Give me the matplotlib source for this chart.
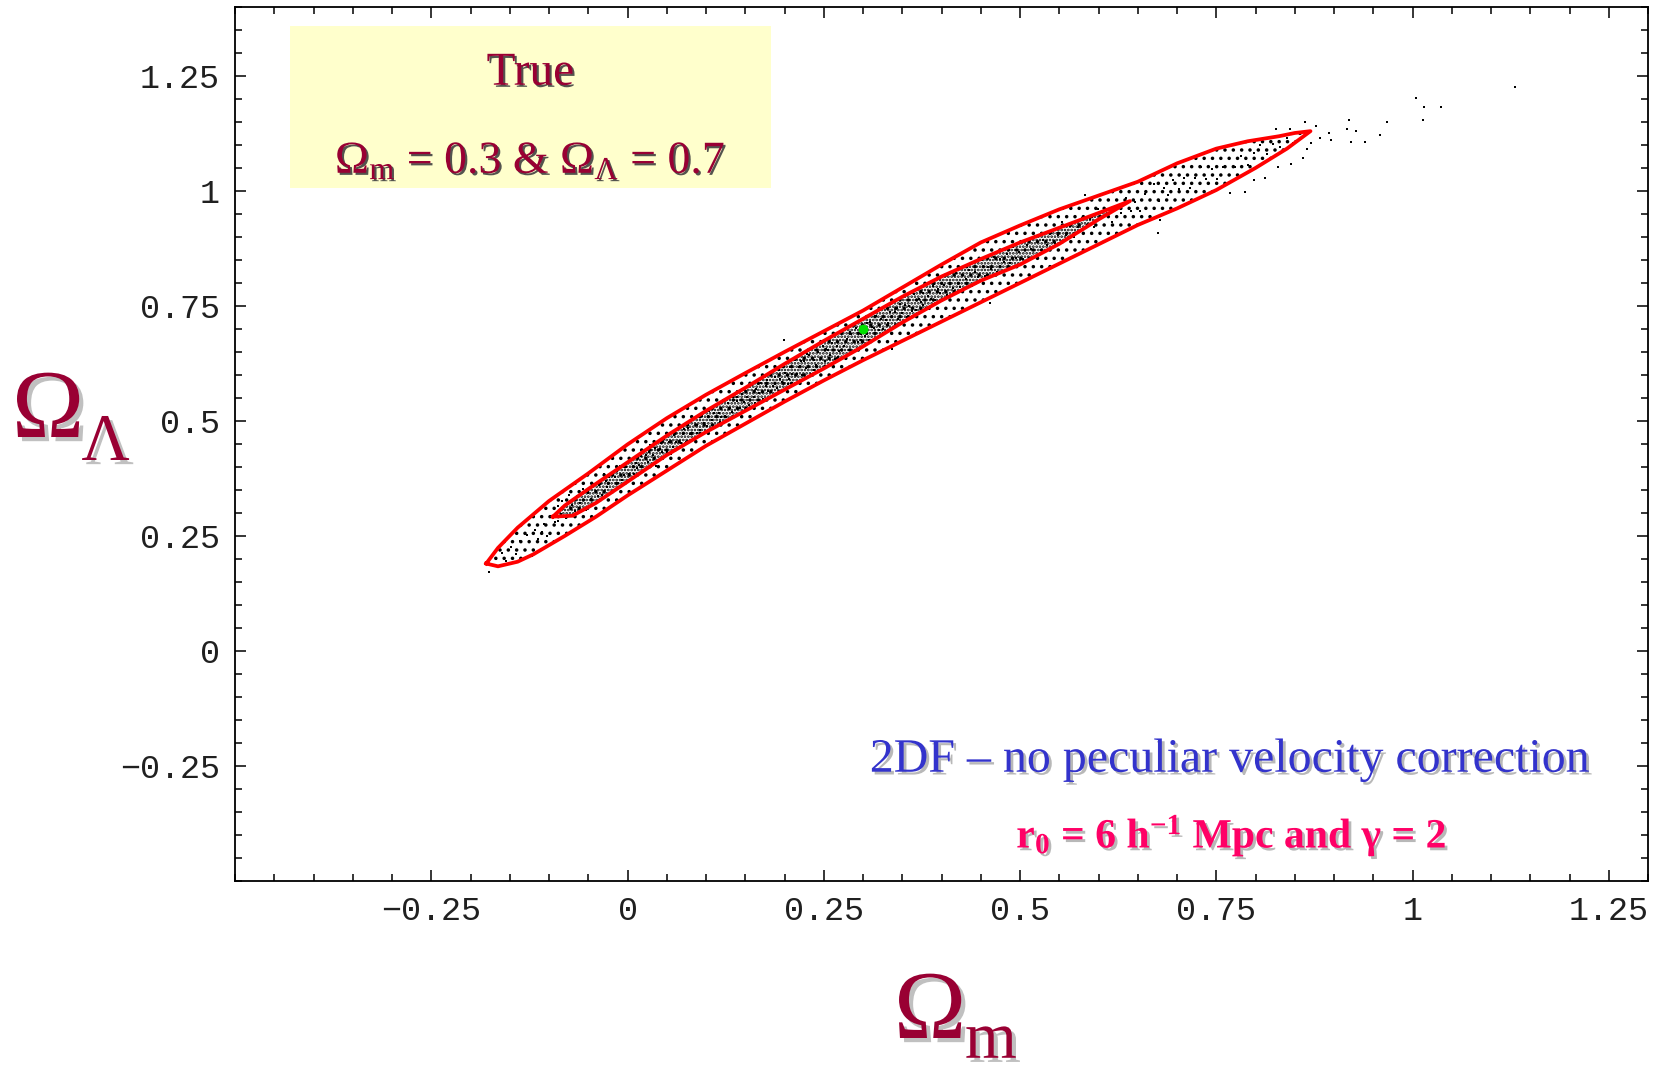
import matplotlib
matplotlib.use("Agg")
import matplotlib.pyplot as plt
import matplotlib.patheffects as pe
from matplotlib.patches import Rectangle
from matplotlib.ticker import FixedLocator, FixedFormatter, MultipleLocator

plt.rcParams['mathtext.fontset'] = 'custom'
plt.rcParams['mathtext.rm'] = 'Liberation Serif'
plt.rcParams['mathtext.it'] = 'Liberation Serif:italic'
plt.rcParams['mathtext.bf'] = 'Liberation Serif:bold'
plt.rcParams['hatch.linewidth'] = 1.3

# confidence contours in the (Omega_m, Omega_Lambda) plane
outer_x = [-0.180, -0.165, -0.140, -0.120, -0.080, -0.040, 0.000, 0.050, 0.100, 0.150,
           0.200, 0.250, 0.300, 0.350, 0.400, 0.450, 0.500, 0.550, 0.600, 0.650,
           0.700, 0.750, 0.800, 0.840, 0.870, 0.850, 0.830, 0.790, 0.750, 0.700,
           0.650, 0.600, 0.550, 0.500, 0.450, 0.400, 0.350, 0.300, 0.250, 0.200,
           0.150, 0.100, 0.050, 0.000, -0.050, -0.100, -0.140, -0.165, -0.180]
outer_y = [0.190, 0.184, 0.194, 0.210, 0.250, 0.292, 0.338, 0.392, 0.446, 0.494,
           0.542, 0.588, 0.632, 0.674, 0.716, 0.758, 0.800, 0.842, 0.884, 0.926,
           0.962, 1.002, 1.050, 1.092, 1.130, 1.126, 1.119, 1.108, 1.092, 1.060,
           1.020, 0.990, 0.960, 0.925, 0.888, 0.840, 0.790, 0.740, 0.695, 0.650,
           0.604, 0.557, 0.506, 0.449, 0.386, 0.326, 0.268, 0.224, 0.190]

inner_x = [-0.095, -0.080, -0.050, 0.000, 0.050, 0.100, 0.150, 0.200, 0.250, 0.300,
           0.350, 0.400, 0.450, 0.500, 0.550, 0.600, 0.640, 0.600, 0.550, 0.500,
           0.450, 0.400, 0.350, 0.300, 0.250, 0.200, 0.150, 0.100, 0.050, 0.000,
           -0.040, -0.070, -0.095]
inner_y = [0.292, 0.316, 0.352, 0.410, 0.468, 0.522, 0.572, 0.624, 0.674, 0.722,
           0.770, 0.814, 0.852, 0.888, 0.920, 0.952, 0.978, 0.938, 0.885, 0.840,
           0.805, 0.762, 0.714, 0.662, 0.614, 0.568, 0.522, 0.476, 0.426, 0.368,
           0.322, 0.294, 0.292]

# sampled models (Omega_m, Omega_Lambda)
samples = [
    (-0.176, 0.171), (-0.168, 0.200), (-0.160, 0.213), (-0.155, 0.196), (-0.149, 0.226),
    (-0.142, 0.211), (-0.137, 0.238), (-0.131, 0.220), (-0.128, 0.251), (-0.122, 0.206),
    (-0.118, 0.262), (-0.114, 0.244), (-0.109, 0.258), (-0.106, 0.276), (-0.102, 0.249),
    (-0.097, 0.294), (-0.093, 0.280), (-0.089, 0.315), (-0.085, 0.297), (-0.081, 0.314),
    (-0.078, 0.288), (-0.074, 0.340), (-0.071, 0.317), (-0.067, 0.305), (-0.064, 0.337),
    (-0.060, 0.322), (-0.057, 0.353), (-0.053, 0.307), (-0.050, 0.343), (-0.047, 0.331),
    (-0.043, 0.362), (-0.040, 0.347), (-0.036, 0.361), (-0.033, 0.338), (-0.030, 0.385),
    (-0.026, 0.357), (-0.023, 0.379), (-0.019, 0.348), (-0.016, 0.378), (-0.012, 0.366),
    (-0.009, 0.401), (-0.005, 0.383), (-0.002, 0.400), (-0.088, 0.283), (-0.076, 0.322),
    (-0.062, 0.310), (-0.045, 0.356), (-0.038, 0.336), (-0.028, 0.369), (-0.014, 0.391),
    (-0.007, 0.372), (-0.083, 0.327),
    (0.002, 0.385), (0.005, 0.418), (0.008, 0.384), (0.011, 0.409), (0.014, 0.404),
    (0.017, 0.424), (0.020, 0.388), (0.023, 0.425), (0.026, 0.410), (0.029, 0.447),
    (0.032, 0.426), (0.035, 0.441), (0.038, 0.413), (0.041, 0.439), (0.044, 0.432),
    (0.047, 0.460), (0.050, 0.432), (0.053, 0.455), (0.056, 0.429), (0.059, 0.469),
    (0.062, 0.454), (0.065, 0.490), (0.068, 0.453), (0.071, 0.471), (0.074, 0.454),
    (0.077, 0.485), (0.080, 0.472), (0.083, 0.502), (0.086, 0.458), (0.089, 0.492),
    (0.092, 0.481), (0.095, 0.510), (0.098, 0.496), (0.012, 0.397), (0.027, 0.432),
    (0.043, 0.451), (0.058, 0.444), (0.072, 0.482), (0.088, 0.474), (0.097, 0.520),
    (0.036, 0.402),
    (0.101, 0.490), (0.104, 0.521), (0.107, 0.503), (0.110, 0.518), (0.113, 0.490),
    (0.116, 0.518), (0.119, 0.509), (0.122, 0.546), (0.125, 0.509), (0.128, 0.538),
    (0.131, 0.529), (0.134, 0.552), (0.137, 0.510), (0.140, 0.544), (0.143, 0.529),
    (0.146, 0.558), (0.149, 0.541), (0.152, 0.551), (0.155, 0.534), (0.158, 0.578),
    (0.161, 0.551), (0.164, 0.570), (0.167, 0.561), (0.170, 0.583), (0.173, 0.547),
    (0.176, 0.577), (0.179, 0.565), (0.182, 0.606), (0.185, 0.577), (0.188, 0.596),
    (0.191, 0.571), (0.194, 0.592), (0.197, 0.584), (0.108, 0.527), (0.118, 0.497),
    (0.133, 0.520), (0.148, 0.567), (0.163, 0.540), (0.178, 0.590), (0.193, 0.610),
    (0.139, 0.553),
    (0.201, 0.604), (0.204, 0.580), (0.207, 0.618), (0.210, 0.603), (0.213, 0.632),
    (0.216, 0.601), (0.219, 0.618), (0.222, 0.600), (0.225, 0.631), (0.228, 0.616),
    (0.231, 0.643), (0.234, 0.603), (0.237, 0.632), (0.240, 0.622), (0.243, 0.649),
    (0.246, 0.636), (0.249, 0.663), (0.252, 0.630), (0.255, 0.654), (0.258, 0.643),
    (0.261, 0.669), (0.264, 0.635), (0.267, 0.662), (0.270, 0.651), (0.273, 0.691),
    (0.276, 0.663), (0.279, 0.679), (0.282, 0.655), (0.285, 0.688), (0.288, 0.672),
    (0.291, 0.701), (0.294, 0.671), (0.297, 0.689), (0.206, 0.592), (0.221, 0.630),
    (0.238, 0.611), (0.253, 0.657), (0.268, 0.640), (0.283, 0.694), (0.298, 0.676),
    (0.229, 0.646),
    (0.302, 0.684), (0.305, 0.712), (0.308, 0.677), (0.311, 0.705), (0.314, 0.701),
    (0.317, 0.729), (0.320, 0.697), (0.323, 0.722), (0.326, 0.699), (0.329, 0.719),
    (0.332, 0.714), (0.335, 0.737), (0.338, 0.702), (0.341, 0.736), (0.344, 0.722),
    (0.347, 0.755), (0.350, 0.735), (0.353, 0.751), (0.356, 0.726), (0.359, 0.750),
    (0.362, 0.740), (0.365, 0.777), (0.368, 0.742), (0.371, 0.765), (0.374, 0.759),
    (0.377, 0.778), (0.380, 0.746), (0.383, 0.772), (0.386, 0.765), (0.389, 0.793),
    (0.392, 0.763), (0.395, 0.786), (0.398, 0.779), (0.309, 0.715), (0.343, 0.745),
    (0.361, 0.723), (0.376, 0.751), (0.391, 0.797),
    (0.403, 0.796), (0.407, 0.773), (0.411, 0.797), (0.415, 0.790), (0.419, 0.821),
    (0.423, 0.791), (0.427, 0.818), (0.431, 0.809), (0.435, 0.829), (0.439, 0.794),
    (0.443, 0.824), (0.447, 0.814), (0.451, 0.850), (0.455, 0.815), (0.459, 0.834),
    (0.463, 0.830), (0.467, 0.856), (0.471, 0.823), (0.475, 0.853), (0.479, 0.845),
    (0.483, 0.864), (0.487, 0.844), (0.491, 0.878), (0.495, 0.855), (0.499, 0.868),
    (0.504, 0.853), (0.509, 0.882), (0.514, 0.874), (0.519, 0.901), (0.524, 0.863),
    (0.529, 0.893), (0.534, 0.883), (0.539, 0.909), (0.544, 0.886), (0.549, 0.905),
    (0.554, 0.932), (0.559, 0.905), (0.564, 0.924), (0.569, 0.900), (0.574, 0.922),
    (0.579, 0.942), (0.584, 0.919), (0.589, 0.939), (0.594, 0.922), (0.599, 0.961),
    (0.605, 0.941), (0.611, 0.961), (0.617, 0.933), (0.623, 0.961), (0.629, 0.952),
    (0.635, 0.985), (0.641, 0.956), (0.647, 0.977), (0.653, 0.956), (0.659, 0.993),
    (0.665, 0.981), (0.671, 1.016), (0.677, 0.978), (0.683, 1.006), (0.689, 0.992),
    (0.695, 1.024), (0.702, 1.004), (0.709, 1.028), (0.716, 1.006), (0.723, 1.029),
    (0.730, 1.051), (0.737, 1.025), (0.744, 1.048), (0.751, 1.026), (0.758, 1.051),
    (0.766, 1.071), (0.774, 1.052), (0.782, 1.075), (0.790, 1.056), (0.798, 1.082),
    (0.806, 1.100), (0.814, 1.080), (0.822, 1.101), (0.831, 1.095), (0.840, 1.115),
    (0.848, 1.105),
    # scatter outside the outer contour and the high-Omega tail
    (0.199, 0.675), (0.337, 0.656), (0.462, 0.756), (0.583, 0.991), (0.676, 0.909),
    (0.678, 0.937), (0.786, 0.998), (0.767, 0.995), (0.798, 1.024), (0.812, 1.028),
    (0.828, 1.052), (0.845, 1.058), (0.860, 1.071), (0.866, 1.091), (0.871, 1.104),
    (0.826, 1.134), (0.844, 1.134), (0.863, 1.149), (0.877, 1.141), (0.882, 1.115),
    (0.894, 1.125), (0.896, 1.110), (0.917, 1.134), (0.919, 1.154), (0.922, 1.106),
    (0.928, 1.130), (0.939, 1.106), (0.959, 1.121), (0.967, 1.149), (1.004, 1.201),
    (1.015, 1.182), (1.036, 1.182), (1.013, 1.154), (1.131, 1.227),
]

true_om = 0.3
true_ol = 0.7

x_ticks = [-0.25, 0, 0.25, 0.5, 0.75, 1, 1.25]
x_labels = ["\u22120.25", "0", "0.25", "0.5", "0.75", "1", "1.25"]
y_ticks = [-0.25, 0, 0.25, 0.5, 0.75, 1, 1.25]
y_labels = ["\u22120.25", "0", "0.25", "0.5", "0.75", "1", "1.25"]

maroon = '#990033'

fig = plt.figure(figsize=(16.62, 10.69), dpi=100)
ax = fig.add_axes([0.1414, 0.1759, 0.8502, 0.8176])

# stippling for the bulk of the sample cloud: sparse between the contours,
# dense inside the inner one
ax.fill(outer_x, outer_y, facecolor='none', edgecolor='black', hatch='..',
        lw=0, zorder=2)
ax.fill(inner_x, inner_y, facecolor='none', edgecolor='black', hatch='.....',
        lw=0, zorder=2)
sx = [p[0] for p in samples]
sy = [p[1] for p in samples]
ax.plot(sx, sy, 's', ms=1.8, mew=0, color='black', zorder=2)
ax.plot(outer_x, outer_y, color='#ff0000', lw=2.7, zorder=3)
ax.plot(inner_x, inner_y, color='#ff0000', lw=2.7, zorder=3)
ax.plot(true_om, true_ol, 'o', ms=7, mew=0, color='#00e000', zorder=4)

ax.set_xlim(-0.5, 1.3)
ax.set_ylim(-0.5, 1.4)

ax.xaxis.set_major_locator(FixedLocator(x_ticks))
ax.xaxis.set_major_formatter(FixedFormatter(x_labels))
ax.yaxis.set_major_locator(FixedLocator(y_ticks))
ax.yaxis.set_major_formatter(FixedFormatter(y_labels))
ax.xaxis.set_minor_locator(MultipleLocator(0.05))
ax.yaxis.set_minor_locator(MultipleLocator(0.05))
ax.tick_params(which='both', direction='in', top=True, right=True, width=1.1,
               color='black')
ax.tick_params(which='major', length=8, pad=11)
ax.tick_params(which='minor', length=5)
for lab in ax.get_xticklabels() + ax.get_yticklabels():
    lab.set_family('Liberation Mono')
    lab.set_fontsize(24)
    lab.set_color('#202020')
for sp in ax.spines.values():
    sp.set_linewidth(1.3)

# legend box with the input cosmology
ax.add_patch(Rectangle((0.039, 0.793), 0.340, 0.185, transform=ax.transAxes,
                       facecolor='#ffffcc', edgecolor='none', zorder=1))
box_shadow = [pe.withSimplePatchShadow(offset=(1.5, -1.5), shadow_rgbFace='#404040', alpha=0.9)]
ax.text(0.209, 0.911, 'True', transform=ax.transAxes, ha='center', va='baseline',
        family='Liberation Serif', fontsize=34, color=maroon, path_effects=box_shadow)
ax.text(0.209, 0.810, r'$\Omega_{\mathrm{m}}$ = 0.3 & $\Omega_{\Lambda}$ = 0.7',
        transform=ax.transAxes, ha='center', va='baseline',
        family='Liberation Serif', fontsize=33, color=maroon, path_effects=box_shadow)

light_shadow = [pe.withSimplePatchShadow(offset=(2, -2), shadow_rgbFace='#b8b8b8', alpha=1)]
ax.text(0.704, 0.125, '2DF \u2013 no peculiar velocity correction', transform=ax.transAxes,
        ha='center', va='baseline', family='Liberation Serif', fontsize=34.5,
        color='#3333cc', path_effects=light_shadow)
ax.text(0.705, 0.038, 'r$_{\\mathbf{0}}$ = 6 h$^{\\mathbf{-1}}$ Mpc and \u03b3 = 2',
        transform=ax.transAxes, ha='center', va='baseline', family='Liberation Serif',
        fontweight='bold', fontsize=30, color='#ff0066', path_effects=light_shadow)

# axis labels: large Omega with a dropped subscript
label_shadow = [pe.withSimplePatchShadow(offset=(3, -3), shadow_rgbFace='#c0c0c0', alpha=1)]
label_kw = dict(ha='left', va='baseline', family='Liberation Serif', color=maroon,
                path_effects=label_shadow)
fig.text(0.5379, 0.0290, '\u03a9', fontsize=70, **label_kw)
fig.text(0.5806, 0.0105, 'm', fontsize=48, **label_kw)
fig.text(0.0072, 0.5912, '\u03a9', fontsize=70, **label_kw)
fig.text(0.0490, 0.5697, '\u039b', fontsize=48, **label_kw)

fig.savefig('out.png', dpi=100)
